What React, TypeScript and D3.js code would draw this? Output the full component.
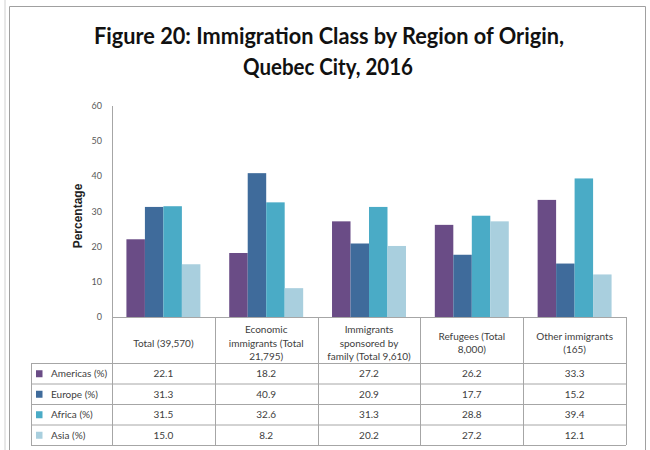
import React from "react";
import * as d3 from "d3";

const categories = [
  ["Total (39,570)"],
  ["Economic", "immigrants (Total", "21,795)"],
  ["Immigrants", "sponsored by", "family (Total 9,610)"],
  ["Refugees (Total", "8,000)"],
  ["Other immigrants", "(165)"],
];
const seriesNames = ["Americas (%)", "Europe (%)", "Africa (%)", "Asia (%)"];
const americas = [22.1, 18.2, 27.2, 26.2, 33.3];
const europe = [31.3, 40.9, 20.9, 17.7, 15.2];
const africa = [31.5, 32.6, 31.3, 28.8, 39.4];
const asia = [15.0, 8.2, 20.2, 27.2, 12.1];
const seriesValues = [americas, europe, africa, asia];
const colors = ["#6A4C86", "#3F6B9B", "#4AABC6", "#A9CFDE"];
const yTicks = [0, 10, 20, 30, 40, 50, 60];
const titleLines = ["Figure 20: Immigration Class by Region of Origin,", "Quebec City, 2016"];

const W = 650;
const H = 450;
const plotL = 112;
const plotR = 626;
const plotTop = 106;
const plotBottom = 317;
const tableL = 31;
const headerBottom = 363;
const rowH = 20.5;

export default function App() {
  const catIdx = categories.map((_, i) => String(i));
  const x = d3.scaleBand().domain(catIdx).range([plotL, plotR]).padding(0);
  const inner = d3
    .scaleBand()
    .domain(seriesNames)
    .range([0, x.bandwidth()])
    .paddingInner(0)
    .paddingOuter(0.78);
  const y = d3.scaleLinear().domain([0, 60]).range([plotBottom, plotTop]);
  const font = "Lato, 'Open Sans', sans-serif";
  const gridColor = "#A6A6A6";
  const textColor = "#404040";
  const tableBottom = headerBottom + rowH * seriesNames.length;

  return (
    <div style={{ position: "absolute", left: 0, top: 0 }}>
      <svg width={W} height={H} style={{ display: "block", background: "#fff" }}>
        {/* outer frame */}
        <line x1={5} y1={0} x2={5} y2={H} stroke="#D0D0D0" strokeWidth={1} />
        <line x1={9.5} y1={6.5} x2={9.5} y2={H} stroke="#A0A0A0" strokeWidth={1} />
        <line x1={9.5} y1={6.5} x2={645.5} y2={6.5} stroke="#A0A0A0" strokeWidth={1} />
        <line x1={645.5} y1={6.5} x2={645.5} y2={H} stroke="#A0A0A0" strokeWidth={1} />

        {/* title */}
        <text
          x={94}
          y={44}
          textLength={470}
          lengthAdjust="spacingAndGlyphs"
          fontFamily={font}
          fontWeight="bold"
          fontSize={22.5}
          fill="#111"
        >
          {titleLines[0]}
        </text>
        <text
          x={243}
          y={75}
          textLength={170}
          lengthAdjust="spacingAndGlyphs"
          fontFamily={font}
          fontWeight="bold"
          fontSize={22.5}
          fill="#111"
        >
          {titleLines[1]}
        </text>

        {/* y axis */}
        <line x1={plotL + 0.5} y1={plotTop} x2={plotL + 0.5} y2={plotBottom} stroke={gridColor} />
        {yTicks.map((t) => (
          <text
            key={t}
            x={102}
            y={y(t)}
            dy="0.35em"
            textAnchor="end"
            fontFamily={font}
            fontSize={9}
            fill="#595959"
          >
            {t}
          </text>
        ))}
        <text
          transform={`translate(82,216) rotate(-90)`}
          textAnchor="middle"
          fontFamily="'Liberation Sans', Arial, sans-serif"
          fontWeight="bold"
          fontSize={12}
          fill="#222"
        >
          Percentage
        </text>

        {/* bars */}
        {catIdx.map((c, ci) => (
          <g key={c} transform={`translate(${x(c)},0)`}>
            {seriesNames.map((s, si) => {
              const v = seriesValues[si][ci];
              return (
                <rect
                  key={s}
                  x={inner(s)}
                  y={y(v)}
                  width={inner.bandwidth()}
                  height={y(0) - y(v)}
                  fill={colors[si]}
                />
              );
            })}
          </g>
        ))}

        {/* table grid */}
        <line x1={plotL} y1={plotBottom + 0.5} x2={plotR} y2={plotBottom + 0.5} stroke={gridColor} />
        {d3.range(seriesNames.length + 1).map((i) => (
          <line
            key={"h" + i}
            x1={tableL}
            x2={plotR}
            y1={headerBottom + i * rowH + 0.5}
            y2={headerBottom + i * rowH + 0.5}
            stroke={gridColor}
          />
        ))}
        <line x1={tableL + 0.5} x2={tableL + 0.5} y1={headerBottom} y2={tableBottom} stroke={gridColor} />
        {catIdx.map((c) => (
          <line
            key={"v" + c}
            x1={Math.round(x(c) as number) + 0.5}
            x2={Math.round(x(c) as number) + 0.5}
            y1={plotBottom}
            y2={tableBottom}
            stroke={gridColor}
          />
        ))}
        <line x1={plotR + 0.5} x2={plotR + 0.5} y1={plotBottom} y2={tableBottom} stroke={gridColor} />

        {/* header labels */}
        {categories.map((lines, ci) => {
          const cx = (x(String(ci)) as number) + x.bandwidth() / 2;
          const lh = 13.3;
          const mid = 343;
          const start = mid - ((lines.length - 1) * lh) / 2;
          return (
            <text
              key={"c" + ci}
              textAnchor="middle"
              fontFamily={font}
              fontSize={10}
              fill={textColor}
            >
              {lines.map((l, li) => (
                <tspan key={li} x={cx} y={start + li * lh} dy="0.35em">
                  {l}
                </tspan>
              ))}
            </text>
          );
        })}

        {/* rows */}
        {seriesNames.map((s, si) => {
          const cy = headerBottom + si * rowH + rowH / 2 + 0.5;
          return (
            <g key={s}>
              <rect x={36} y={cy - 3.5} width={6.5} height={7} fill={colors[si]} />
              <text
                x={51}
                y={cy}
                dy="0.35em"
                fontFamily={font}
                fontSize={10}
                fill={textColor}
              >
                {s}
              </text>
              {seriesValues[si].map((v, ci) => (
                <text
                  key={ci}
                  x={(x(String(ci)) as number) + x.bandwidth() / 2}
                  y={cy}
                  dy="0.35em"
                  textAnchor="middle"
                  fontFamily={font}
                  fontSize={10}
                  fill={textColor}
                >
                  {v.toFixed(1)}
                </text>
              ))}
            </g>
          );
        })}
      </svg>
    </div>
  );
}
